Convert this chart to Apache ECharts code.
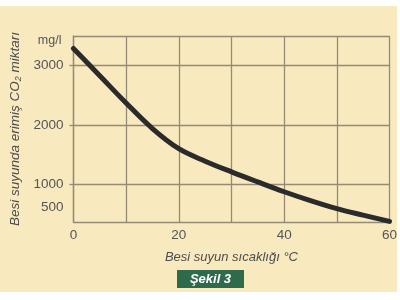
<!DOCTYPE html>
<html><head><meta charset="utf-8">
<script src="https://cdn.jsdelivr.net/npm/echarts@6/dist/echarts.min.js"></script>
<style>html,body{margin:0;padding:0;background:#fff}#c{width:400px;height:300px}</style>
</head><body><div id="c"></div>
<script>
// Data
const temperatures = [0, 5, 10, 15, 20, 25, 30, 35, 40, 45, 50, 55, 60];
const co2Values = [3290, 2830, 2370, 1940, 1600, 1390, 1210, 1040, 875, 725, 590, 480, 375];
const xTickLabels = [0, 20, 40, 60];
const yTickLabels = [500, 1000, 2000, 3000];
const yGridValues = [1000, 2000, 3000];
const yUnitLabel = 'mg/l';
const yUnitPos = 3420;
const xTitle = 'Besi suyun sıcaklığı °C';
const yTitle = 'Besi suyunda erimiş CO{s|2} miktarı';
const figLabel = 'Şekil 3';

const gridColor = '#958a73';
const chart = echarts.init(document.getElementById('c'), null, {renderer: 'canvas'});
chart.setOption({
  animation: false,
  backgroundColor: 'transparent',
  graphic: [
    {type: 'rect', z: -10, shape: {x: 0, y: 6, width: 397, height: 286}, style: {fill: '#f8e9bf'}},
    {type: 'rect', shape: {x: 177, y: 270, width: 67, height: 18}, style: {fill: '#2e6a4b'}},
    {type: 'text', x: 210.5, y: 279, style: {text: figLabel, fill: '#ffffff', font: 'italic bold 13px Liberation Sans', align: 'center', verticalAlign: 'middle'}}
  ],
  grid: {left: 69, right: 8, top: 36, bottom: 78},
  xAxis: {
    type: 'value', min: 0, max: 60, interval: 10,
    name: xTitle, nameLocation: 'middle', nameGap: 29,
    nameTextStyle: {fontFamily: 'Liberation Sans', fontStyle: 'italic', fontSize: 13, color: '#4d4d4d'},
    axisLine: {show: true, onZero: false, lineStyle: {color: gridColor, width: 1.3}},
    axisTick: {show: false},
    axisLabel: {
      margin: 6, fontFamily: 'Liberation Sans', fontSize: 13.5, color: '#555',
      formatter: v => xTickLabels.indexOf(v) >= 0 ? String(v) : ''
    },
    splitLine: {show: true, lineStyle: {color: gridColor, width: 1.3}}
  },
  yAxis: {
    type: 'value', min: 365, max: 3500,
    name: yTitle, nameLocation: 'middle', nameGap: 44, nameRotate: 90,
    nameTextStyle: {fontFamily: 'Liberation Sans', fontStyle: 'italic', fontSize: 13.5, color: '#4d4d4d',
      rich: {s: {fontFamily: 'Liberation Sans', fontStyle: 'italic', fontSize: 9, color: '#4d4d4d', verticalAlign: 'bottom', padding: [6, 0, 0, 0]}}},
    axisLine: {show: true, lineStyle: {color: gridColor, width: 1.3}},
    axisTick: {show: true, length: 4, customValues: yGridValues, lineStyle: {color: gridColor, width: 1.3}},
    axisLabel: {
      margin: 10, fontFamily: 'Liberation Sans', fontSize: 13.5, color: '#555',
      customValues: yTickLabels.concat([yUnitPos]),
      formatter: v => v === yUnitPos ? '{u|' + yUnitLabel + '}' : (v === 500 ? '{f|500}' : String(v)),
      rich: {
        u: {fontFamily: 'Liberation Sans', fontSize: 12.5, color: '#555', padding: [0, 2, 0, 0]},
        f: {fontFamily: 'Liberation Sans', fontSize: 13.5, color: '#555', padding: [0, 0, 14, 0]}
      }
    },
    splitLine: {show: false}
  },
  series: [{
    type: 'line', data: temperatures.map((t, i) => [t, co2Values[i]]),
    smooth: 0.35, showSymbol: false, clip: false,
    lineStyle: {color: '#2b2b2b', width: 5, cap: 'round'},
    markLine: {
      silent: true, symbol: 'none', label: {show: false},
      lineStyle: {color: gridColor, width: 1.3, type: 'solid'},
      data: yGridValues.concat([3500]).map(v => ({yAxis: v}))
    },
    z: 5
  }]
});
</script></body></html>
